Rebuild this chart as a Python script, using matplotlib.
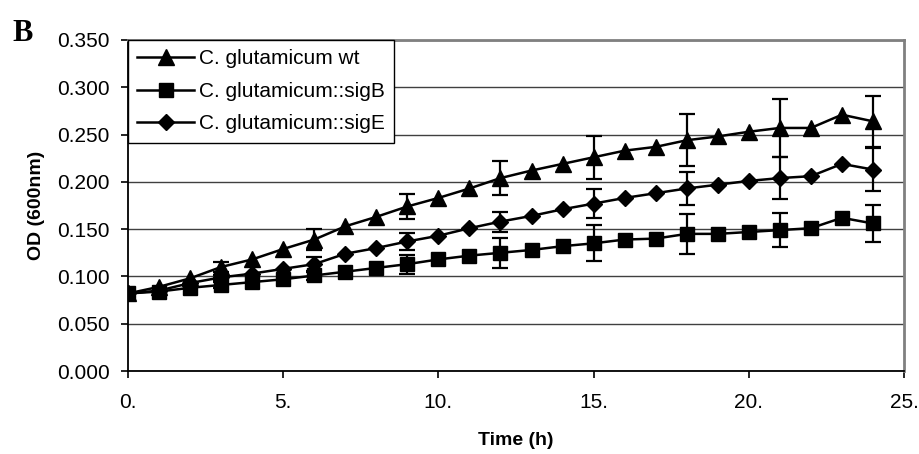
import numpy as np
import matplotlib.pyplot as plt

plt.rcParams['font.family'] = ['Liberation Sans', 'DejaVu Sans']

time_h = list(range(25))

wt = [0.082, 0.089, 0.098, 0.110, 0.118, 0.129, 0.139, 0.153, 0.163, 0.174,
      0.183, 0.193, 0.204, 0.212, 0.219, 0.226, 0.233, 0.237, 0.244, 0.248,
      0.253, 0.257, 0.257, 0.271, 0.264]
sigB = [0.082, 0.084, 0.088, 0.091, 0.094, 0.097, 0.101, 0.105, 0.109, 0.113,
        0.118, 0.122, 0.125, 0.128, 0.132, 0.135, 0.139, 0.140, 0.145, 0.145,
        0.147, 0.149, 0.151, 0.162, 0.156]
sigE = [0.082, 0.085, 0.093, 0.099, 0.103, 0.108, 0.113, 0.124, 0.130, 0.137,
        0.143, 0.151, 0.158, 0.164, 0.171, 0.177, 0.183, 0.188, 0.193, 0.197,
        0.201, 0.204, 0.206, 0.219, 0.213]

# standard deviations, only measured every 3 h
err_t = [3, 6, 9, 12, 15, 18, 21, 24]
wt_err = [0.005, 0.011, 0.013, 0.018, 0.023, 0.0275, 0.031, 0.027]
sigB_err = [0.003, 0.005, 0.010, 0.016, 0.019, 0.0215, 0.018, 0.020]
sigE_err = [0.003, 0.008, 0.009, 0.0105, 0.015, 0.0175, 0.022, 0.023]

fig = plt.figure(figsize=(9.19, 4.54), dpi=100)
ax = fig.add_axes([0.1393, 0.1828, 0.8444, 0.7291])

series = [
    ("C. glutamicum wt", wt, wt_err, '^', 11.5),
    ("C. glutamicum::sigB", sigB, sigB_err, 's', 10.5),
    ("C. glutamicum::sigE", sigE, sigE_err, 'D', 8.5),
]

for label, y, yerr, mk, ms in series:
    ax.plot(time_h, y, color='black', lw=1.8, marker=mk, markersize=ms,
            label=label, zorder=3)
    ye = [y[time_h.index(t)] for t in err_t]
    ax.errorbar(err_t, ye, yerr=yerr, fmt='none', ecolor='black',
                elinewidth=1.6, capsize=5.5, capthick=1.6, zorder=3)

ax.set_xlim(0, 25)
ax.set_ylim(0, 0.35)
ax.set_xticks([0, 5, 10, 15, 20, 25])
ax.set_xticklabels(["0.", "5.", "10.", "15.", "20.", "25."])
ax.set_yticks(np.arange(0, 0.351, 0.05))
ax.set_yticklabels([f"{v:.3f}" for v in np.arange(0, 0.351, 0.05)])
ax.tick_params(axis='both', labelsize=15, direction='out', length=5, width=1.2)
ax.tick_params(axis='x', pad=11)
ax.tick_params(axis='y', pad=8)

ax.yaxis.grid(True, color='#404040', lw=1)
ax.set_axisbelow(True)

for s in ['left', 'bottom']:
    ax.spines[s].set_color('black')
    ax.spines[s].set_linewidth(1.3)
for s in ['top', 'right']:
    ax.spines[s].set_color('#808080')
    ax.spines[s].set_linewidth(2)

ax.set_xlabel("Time (h)", fontsize=14, fontweight='bold', labelpad=14)
ax.set_ylabel("OD (600nm)", fontsize=14, fontweight='bold', labelpad=9)

leg = ax.legend(loc='upper left', bbox_to_anchor=(0, 1), borderaxespad=0,
                fontsize=15, handlelength=2.7, handletextpad=0.25,
                labelspacing=0.65, fancybox=False, framealpha=1,
                edgecolor='black', borderpad=0.45)
leg.get_frame().set_linewidth(1)

fig.text(0.014, 0.91, "B", fontsize=22, fontweight='bold',
         family=['Liberation Serif', 'DejaVu Serif'])

fig.savefig("out.png", dpi=100)
